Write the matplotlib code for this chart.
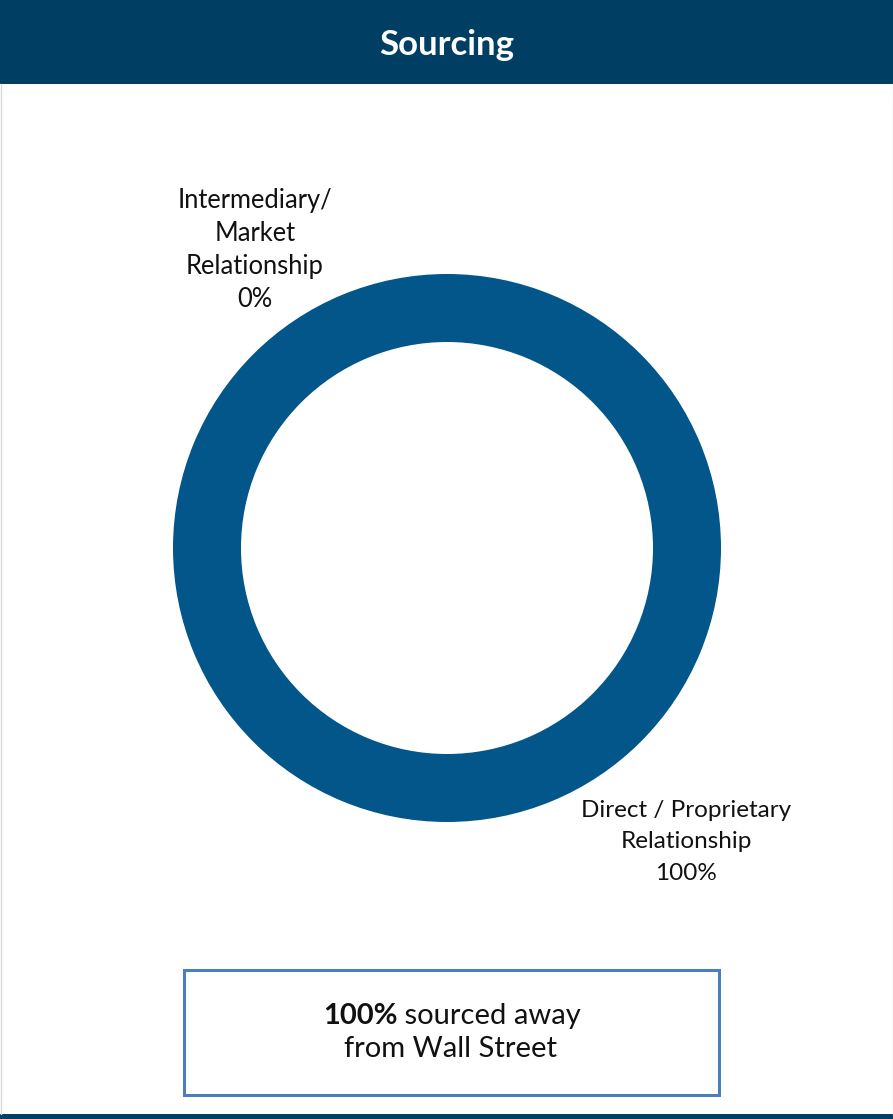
import matplotlib.pyplot as plt
import matplotlib as mpl
from matplotlib.patches import Rectangle

mpl.rcParams["font.family"] = ["Lato", "DejaVu Sans"]

W, H = 893, 1119

title = "Sourcing"
categories = ["Intermediary/\nMarket\nRelationship", "Direct / Proprietary\nRelationship"]
shares = [0, 100]
callout_bold = "100%"
callout_rest = [" sourced away", "from Wall Street"]

navy = "#003f63"
ring = "#02568a"
box_edge = "#4a7ebf"

fig = plt.figure(figsize=(W / 100, H / 100), dpi=100)
bg = fig.add_axes([0, 0, 1, 1])
bg.set_xlim(0, W)
bg.set_ylim(H, 0)
bg.axis("off")

# header band + bottom rule
bg.add_patch(Rectangle((0, 0), W, 84, color=navy, lw=0))
bg.add_patch(Rectangle((0, 1114), W, 5, color=navy, lw=0))
bg.plot([0.5, 0.5], [84, 1114], color="#d9d9d9", lw=1)
bg.plot([W - 0.5, W - 0.5], [84, 1114], color="#d9d9d9", lw=1)
bg.text(W / 2, 45, title, color="white", fontsize=25, fontweight="bold",
        ha="center", va="center")

# donut
cx, cy, r = 447, 548, 274
pie_ax = fig.add_axes([(cx - r) / W, (H - cy - r) / H, 2 * r / W, 2 * r / H])
pie_ax.pie(shares, colors=["#8fb4d9", ring], startangle=90, counterclock=False,
           radius=1, wedgeprops=dict(width=68 / r, linewidth=0))
pie_ax.set_xlim(-1, 1)
pie_ax.set_ylim(-1, 1)
pie_ax.set_aspect("equal")
pie_ax.axis("off")

label_pos = [(255, 250), (686, 842)]
label_size = [18.4, 17.5]
label_spacing = [1.395, 1.64]
for (lx, ly), fs, ls, cat, v in zip(label_pos, label_size, label_spacing, categories, shares):
    bg.text(lx, ly, f"{cat}\n{v}%", fontsize=fs, ha="center", va="center",
            color="#111111", linespacing=ls)

# callout box
bg.add_patch(Rectangle((184, 970), 535, 125, fill=False, edgecolor=box_edge, lw=2.2))
t1 = bg.text(0, 1016, callout_bold, fontsize=21, fontweight="bold",
             ha="left", va="center", color="#111111")
t2 = bg.text(0, 1016, callout_rest[0], fontsize=21, ha="left", va="center",
             color="#111111")
fig.canvas.draw()
rend = fig.canvas.get_renderer()
inv = bg.transData.inverted()
def _w(t):
    bb = t.get_window_extent(rend)
    return inv.transform((bb.x1, 0))[0] - inv.transform((bb.x0, 0))[0]
w1, w2 = _w(t1), _w(t2)
x0 = 452 - (w1 + w2) / 2
t1.set_x(x0)
t2.set_x(x0 + w1)
bg.text(451, 1049, callout_rest[1], fontsize=21, ha="center", va="center",
        color="#111111")

fig.savefig("out.png", dpi=100)
